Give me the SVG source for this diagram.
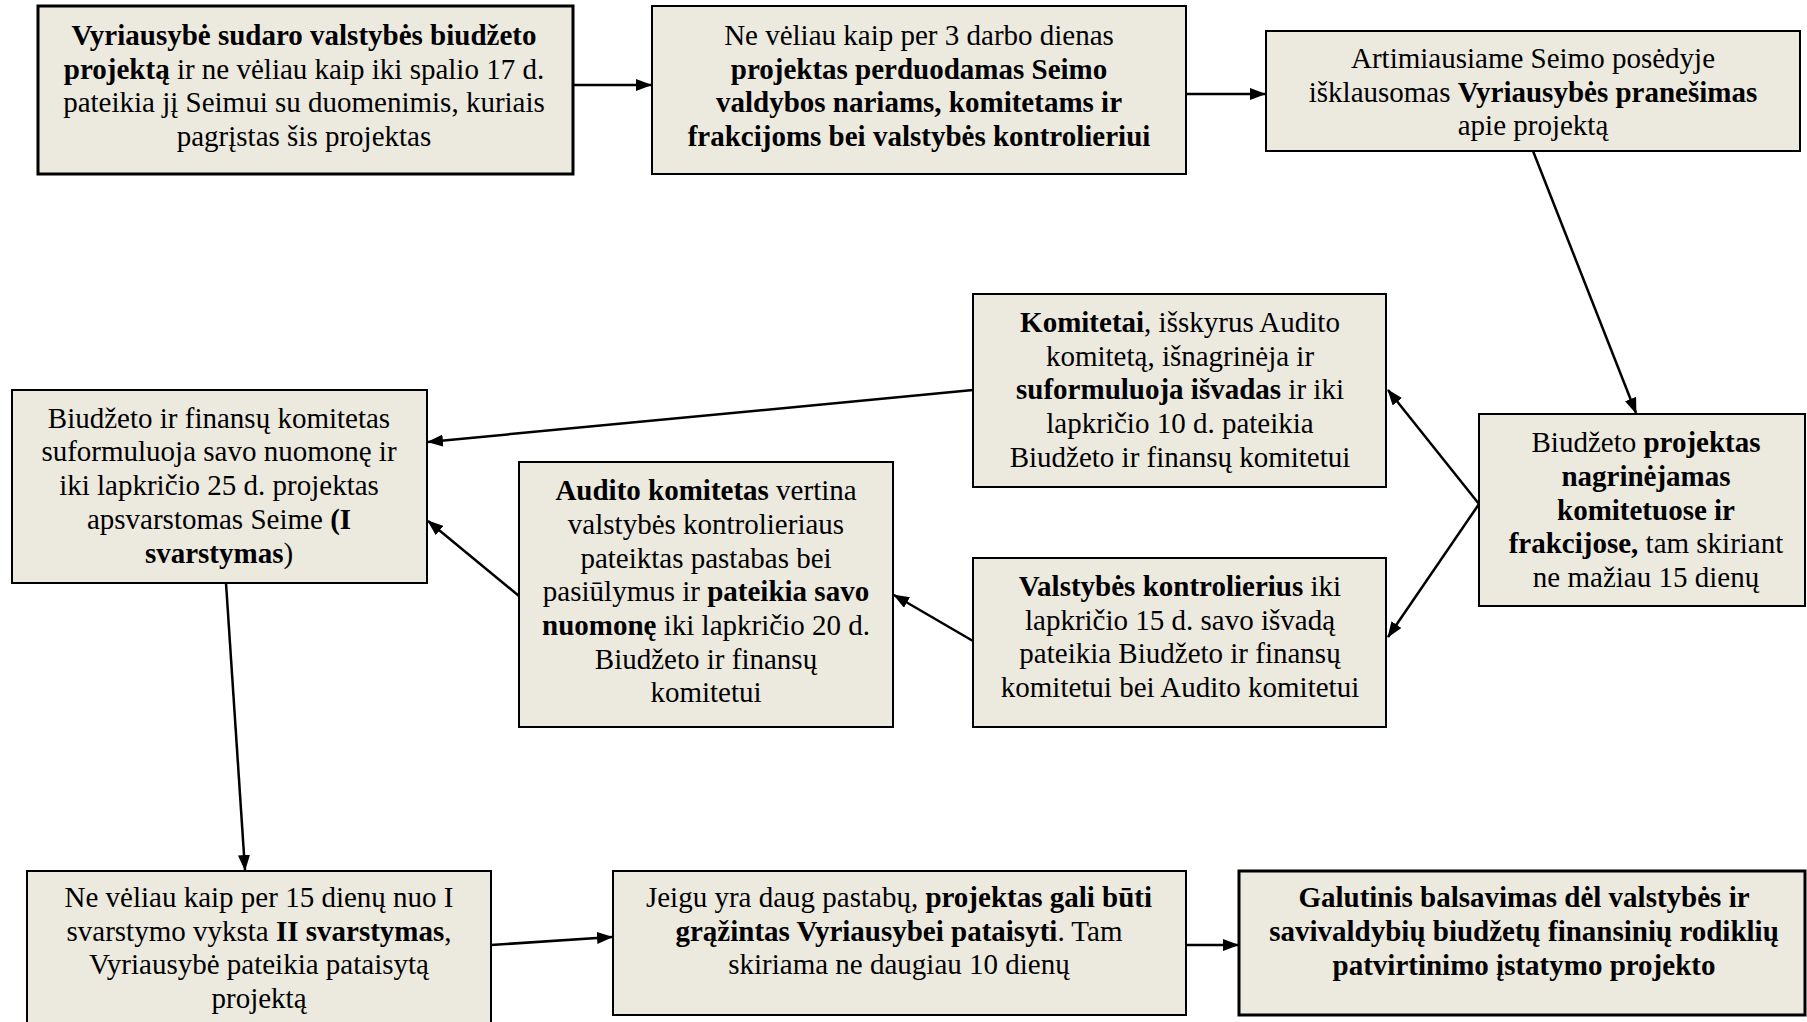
<svg xmlns="http://www.w3.org/2000/svg" width="1807" height="1022" viewBox="0 0 1807 1022">
  <style>
    .box { fill: #ECE9DF; stroke: #000; stroke-width: 2; }
    .thick { stroke-width: 3; }
    text { font-family: "Liberation Serif", "Times New Roman", serif; font-size: 29px; fill: #000; text-anchor: middle; }
    .b { font-weight: bold; }
    .edge { stroke: #000; stroke-width: 2.5; fill: none; marker-end: url(#arrow); }
  </style>
  <defs>
    <marker id="arrow" viewBox="0 0 16 12" refX="15" refY="6" markerWidth="16" markerHeight="12" markerUnits="userSpaceOnUse" orient="auto">
      <path d="M0,0 L16,6 L0,12 Z" fill="#000"/>
    </marker>
  </defs>
  <rect width="1807" height="1022" fill="#fff"/>

  <!-- flow arrows between the steps -->
  <g id="connectors">
    <line class="edge" x1="573" y1="85" x2="651" y2="85"/>
    <line class="edge" x1="1186" y1="94" x2="1265" y2="94"/>
    <line class="edge" x1="1533" y1="151" x2="1636" y2="413"/>
    <line class="edge" x1="1479" y1="504" x2="1388" y2="390"/>
    <line class="edge" x1="1479" y1="504" x2="1388" y2="637"/>
    <line class="edge" x1="973" y1="390" x2="428" y2="442"/>
    <line class="edge" x1="973" y1="641" x2="894" y2="595"/>
    <line class="edge" x1="519" y1="596" x2="428" y2="521"/>
    <line class="edge" x1="226" y1="583" x2="245" y2="870"/>
    <line class="edge" x1="491" y1="945" x2="612" y2="937"/>
    <line class="edge" x1="1186" y1="945" x2="1238" y2="945"/>
  </g>

  <g id="n1">
    <rect class="box thick" x="38" y="6" width="535" height="168"/>
    <text x="304" y="45"><tspan class="b">Vyriausybė sudaro valstybės biudžeto</tspan></text>
    <text x="304" y="79"><tspan class="b">projektą</tspan> ir ne vėliau kaip iki spalio 17 d.</text>
    <text x="304" y="112">pateikia jį Seimui su duomenimis, kuriais</text>
    <text x="304" y="146">pagrįstas šis projektas</text>
  </g>

  <g id="n2">
    <rect class="box" x="652" y="6" width="534" height="168"/>
    <text x="919" y="45">Ne vėliau kaip per 3 darbo dienas</text>
    <text x="919" y="79" class="b">projektas perduodamas Seimo</text>
    <text x="919" y="112" class="b">valdybos nariams, komitetams ir</text>
    <text x="919" y="146" class="b">frakcijoms bei valstybės kontrolieriui</text>
  </g>

  <g id="n3">
    <rect class="box" x="1266" y="31" width="534" height="120"/>
    <text x="1533" y="68">Artimiausiame Seimo posėdyje</text>
    <text x="1533" y="102">išklausomas <tspan class="b">Vyriausybės pranešimas</tspan></text>
    <text x="1533" y="135">apie projektą</text>
  </g>

  <g id="n4">
    <rect class="box" x="1479" y="414" width="326" height="192"/>
    <text x="1646" y="452">Biudžeto <tspan class="b">projektas</tspan></text>
    <text x="1646" y="486" class="b">nagrinėjamas</text>
    <text x="1646" y="520" class="b">komitetuose ir</text>
    <text x="1646" y="553"><tspan class="b">frakcijose,</tspan> tam skiriant</text>
    <text x="1646" y="587">ne mažiau 15 dienų</text>
  </g>

  <g id="n5">
    <rect class="box" x="973" y="294" width="413" height="193"/>
    <text x="1180" y="332"><tspan class="b">Komitetai</tspan>, išskyrus Audito</text>
    <text x="1180" y="366">komitetą, išnagrinėja ir</text>
    <text x="1180" y="399"><tspan class="b">suformuluoja išvadas</tspan> ir iki</text>
    <text x="1180" y="433">lapkričio 10 d. pateikia</text>
    <text x="1180" y="467">Biudžeto ir finansų komitetui</text>
  </g>

  <g id="n6">
    <rect class="box" x="973" y="558" width="413" height="169"/>
    <text x="1180" y="596"><tspan class="b">Valstybės kontrolierius</tspan> iki</text>
    <text x="1180" y="630">lapkričio 15 d. savo išvadą</text>
    <text x="1180" y="663">pateikia Biudžeto ir finansų</text>
    <text x="1180" y="697">komitetui bei Audito komitetui</text>
  </g>

  <g id="n7">
    <rect class="box" x="519" y="462" width="374" height="265"/>
    <text x="706" y="500"><tspan class="b">Audito komitetas</tspan> vertina</text>
    <text x="706" y="534">valstybės kontrolieriaus</text>
    <text x="706" y="568">pateiktas pastabas bei</text>
    <text x="706" y="601">pasiūlymus ir <tspan class="b">pateikia savo</tspan></text>
    <text x="706" y="635"><tspan class="b">nuomonę</tspan> iki lapkričio 20 d.</text>
    <text x="706" y="669">Biudžeto ir finansų</text>
    <text x="706" y="702">komitetui</text>
  </g>

  <g id="n8">
    <rect class="box" x="12" y="390" width="415" height="193"/>
    <text x="219" y="428">Biudžeto ir finansų komitetas</text>
    <text x="219" y="461">suformuluoja savo nuomonę ir</text>
    <text x="219" y="495">iki lapkričio 25 d. projektas</text>
    <text x="219" y="529">apsvarstomas Seime <tspan class="b">(I</tspan></text>
    <text x="219" y="563"><tspan class="b">svarstymas</tspan>)</text>
  </g>

  <g id="n9">
    <rect class="box" x="27" y="871" width="464" height="160"/>
    <text x="259" y="907">Ne vėliau kaip per 15 dienų nuo I</text>
    <text x="259" y="941">svarstymo vyksta <tspan class="b">II svarstymas</tspan>,</text>
    <text x="259" y="974">Vyriausybė pateikia pataisytą</text>
    <text x="259" y="1008">projektą</text>
  </g>

  <g id="n10">
    <rect class="box" x="613" y="871" width="573" height="144"/>
    <text x="899" y="907">Jeigu yra daug pastabų, <tspan class="b">projektas gali būti</tspan></text>
    <text x="899" y="941"><tspan class="b">grąžintas Vyriausybei pataisyti</tspan>. Tam</text>
    <text x="899" y="974">skiriama ne daugiau 10 dienų</text>
  </g>

  <g id="n11">
    <rect class="box thick" x="1239" y="871" width="566" height="144"/>
    <text x="1524" y="907" class="b">Galutinis balsavimas dėl valstybės ir</text>
    <text x="1524" y="941" class="b">savivaldybių biudžetų finansinių rodiklių</text>
    <text x="1524" y="975" class="b">patvirtinimo įstatymo projekto</text>
  </g>
</svg>
